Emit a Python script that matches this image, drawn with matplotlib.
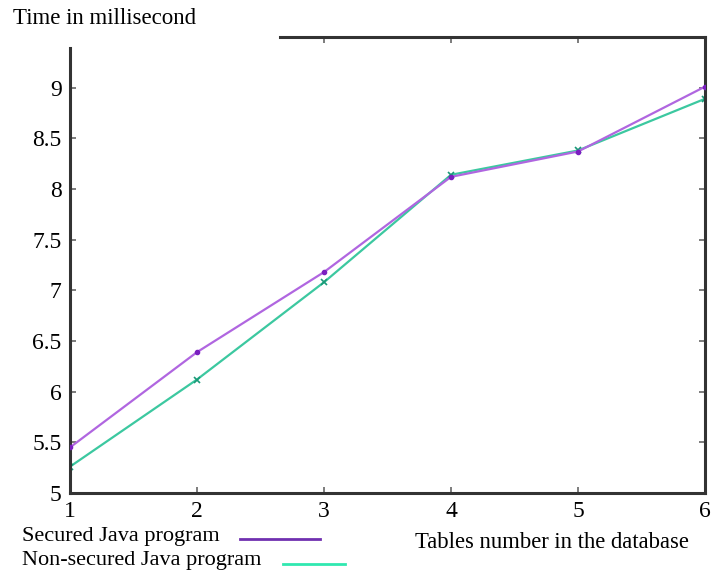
import matplotlib
matplotlib.use("Agg")
import matplotlib.pyplot as plt
from matplotlib.lines import Line2D

tables = [1, 2, 3, 4, 5, 6]
secured = [5.45, 6.39, 7.18, 8.12, 8.37, 9.01]
non_secured = [5.26, 6.12, 7.08, 8.14, 8.38, 8.89]
yticks = [5, 5.5, 6, 6.5, 7, 7.5, 8, 8.5, 9]
ytick_labels = ["5", "5.5", "6", "6.5", "7", "7.5", "8", "8.5", "9"]

plt.rcParams['font.family'] = ['Liberation Serif', 'DejaVu Serif']

fig = plt.figure(figsize=(7.13, 5.74), dpi=100)
ax = fig.add_axes([70/713, 1-493/574, 635/713, 456/574])

ax.plot(tables, secured, color='#b066e0', lw=1.6, marker='o', ms=3,
        mfc='#7a1fc0', mec='#7a1fc0', zorder=3)
ax.plot(tables, non_secured, color='#3cc8a0', lw=1.6, marker='x', ms=4,
        mew=1.2, mec='#1a9a78', zorder=2)

ax.set_xlim(1, 6)
ax.set_ylim(5, 9.5)
ax.set_xticks(tables)
ax.set_xticklabels([str(t) for t in tables])
ax.set_yticks(yticks)
ax.set_yticklabels(ytick_labels)

for s in ax.spines.values():
    s.set_color('#333333')
    s.set_linewidth(2.2)
ax.spines['left'].set_bounds(5, 9.39)
ax.spines['top'].set_bounds(2.65, 6)

ax.tick_params(direction='in', length=4, width=1.2, color='#666666',
               labelsize=17, top=True, right=True)
ax.tick_params(axis='y', pad=6)
ax.tick_params(axis='x', pad=6)

# top ticks only where the top spine is drawn
for t in ax.xaxis.get_major_ticks():
    if t.get_loc() < 2.65 or t.get_loc() >= 6:
        t.tick2line.set_visible(False)
for t in ax.yaxis.get_major_ticks():
    if t.get_loc() <= 5:
        t.tick2line.set_visible(False)

fig.text(13/713, 1-18/574, "Time in millisecond", fontsize=16.5,
         ha='left', va='center')
fig.text(552/713, 1-543/574, "Tables number in the database", fontsize=16.3,
         ha='center', va='center')

fig.text(22/713, 1-536/574, "Secured Java program", fontsize=16,
         ha='left', va='center')
fig.text(22/713, 1-561/574, "Non-secured Java program", fontsize=16,
         ha='left', va='center')
fig.add_artist(Line2D([240/713, 320/713], [1-539/574, 1-539/574],
                      color='#7030b0', lw=2))
fig.add_artist(Line2D([283/713, 345/713], [1-564/574, 1-564/574],
                      color='#30e8b0', lw=2))

fig.savefig("out.png", dpi=100)
